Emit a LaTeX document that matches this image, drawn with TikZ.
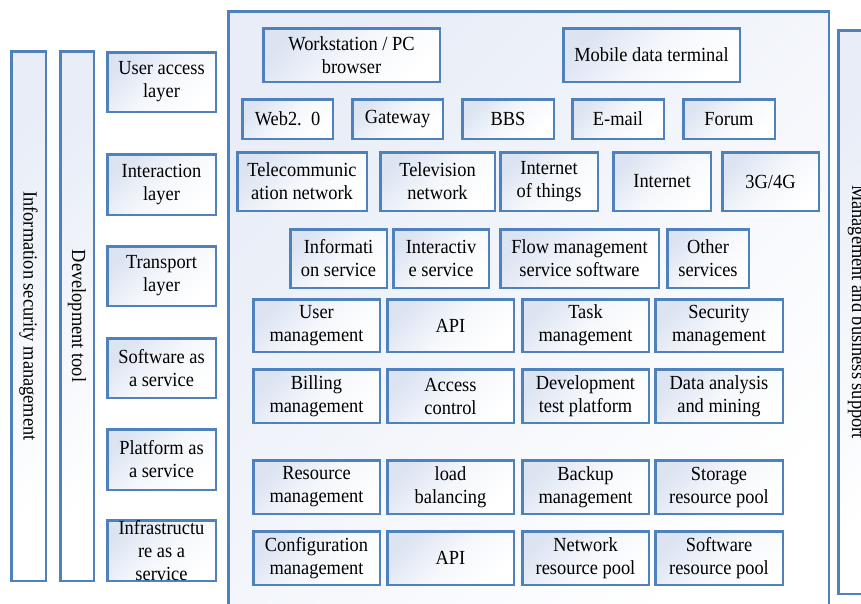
\documentclass[tikz,border=0pt]{standalone}
\usepackage{fontspec}
\setmainfont[FakeStretch=0.92]{Liberation Serif}
\definecolor{bd}{HTML}{4F81BD}
\definecolor{lt}{HTML}{DCE4F2}
\definecolor{mainlt}{HTML}{E8EDF7}
\newcommand{\bx}[7][box]{\node[#1,minimum width={#5-#3-2.5},minimum height={#6-#4-2.5}] (#2) at ({(#3+#5)/2},{(#4+#6)/2}) {#7};}
\begin{document}
\begin{tikzpicture}[x=1pt,y=-1pt,
  box/.style={draw=bd, line width=2.5pt, top color=lt, bottom color=white, middle color=white!70!lt, shading angle=45, align=center, inner sep=0pt, font=\fontsize{20}{23}\selectfont},
  mainbox/.style={draw=bd, line width=2.5pt, top color=mainlt, bottom color=white, shading angle=45, inner sep=0pt},
  vtext/.style={rotate=-90, font=\fontsize{20}{23}\selectfont, inner sep=0pt}]
\useasboundingbox (0,0) rectangle (861,603);
\clip (0,0) rectangle (861,603);
% side bars
\bx[mainbox]{infosec}{10}{50}{47}{582}{}
\bx[mainbox]{devtool}{59}{50}{95}{582}{}
\node[vtext] (infosect) at (infosec.center) {Information security management};
\node[vtext] (devtoolt) at (devtool.center) {Development tool};
% left layers
\bx{useracc}{106}{51}{217}{113}{User access\\layer}
\bx{interact}{106}{153}{217}{216}{Interaction\\layer}
\bx{transport}{106}{245}{217}{307}{Transport\\layer}
\bx{saas}{106}{337}{217}{399}{Software as\\a service}
\bx{paas}{106}{428}{217}{491}{Platform as\\a service}
\bx{iaas}{106}{519}{217}{582}{Infrastructu\\re as a\\service}
% main box and right bar
\bx[mainbox]{main}{227}{10}{830}{625}{}
\bx[mainbox]{mgmt}{837}{29}{880}{595}{}
\node[vtext] (mgmtt) at (857,312) {Management and business support};
% top row
\bx{ws}{262}{27}{441}{83}{Workstation / PC\\browser}
\bx{mdt}{562}{27}{741}{83}{Mobile data terminal}
% row 2
\bx{web}{241}{98}{334}{140}{Web2.\ \ 0}
\bx{gateway}{351}{98}{444}{140}{Gateway}
\bx{bbs}{461}{98}{555}{140}{BBS}
\bx{email}{571}{98}{665}{140}{E-mail}
\bx{forum}{682}{98}{776}{140}{Forum}
% row 3
\bx{telecom}{236}{151}{368}{212}{Telecommunic\\ation network}
\bx{tv}{379}{151}{496}{212}{Television\\network}
\bx{iot}{499}{151}{599}{212}{Internet\\of things}
\bx{internet}{612}{151}{712}{212}{Internet}
\bx{gfour}{721}{151}{820}{212}{3G/4G}
% row 4
\bx{info}{289}{228}{388}{289}{Informati\\on service}
\bx{interactive}{392}{228}{490}{289}{Interactiv\\e service}
\bx{flow}{499}{228}{660}{289}{Flow management\\service software}
\bx{other}{666}{228}{750}{289}{Other\\services}
% row 5
\bx{usermgmt}{252}{298}{381}{353}{User\\management}
\bx{apione}{386}{298}{515}{353}{API}
\bx{task}{521}{298}{650}{353}{Task\\management}
\bx{security}{654}{298}{784}{353}{Security\\management}
% row 6
\bx{billing}{252}{368}{381}{424}{Billing\\management}
\bx{access}{386}{368}{515}{424}{Access\\control}
\bx{devtest}{521}{368}{650}{424}{Development\\test platform}
\bx{data}{654}{368}{784}{424}{Data analysis\\and mining}
% row 7
\bx{resource}{252}{459}{381}{515}{Resource\\management}
\bx{load}{386}{459}{515}{515}{load\\balancing}
\bx{backup}{521}{459}{650}{515}{Backup\\management}
\bx{storage}{654}{459}{784}{515}{Storage\\resource pool}
% row 8
\bx{config}{252}{530}{381}{586}{Configuration\\management}
\bx{apitwo}{386}{530}{515}{586}{API}
\bx{network}{521}{530}{650}{586}{Network\\resource pool}
\bx{software}{654}{530}{784}{586}{Software\\resource pool}
\end{tikzpicture}
\end{document}
